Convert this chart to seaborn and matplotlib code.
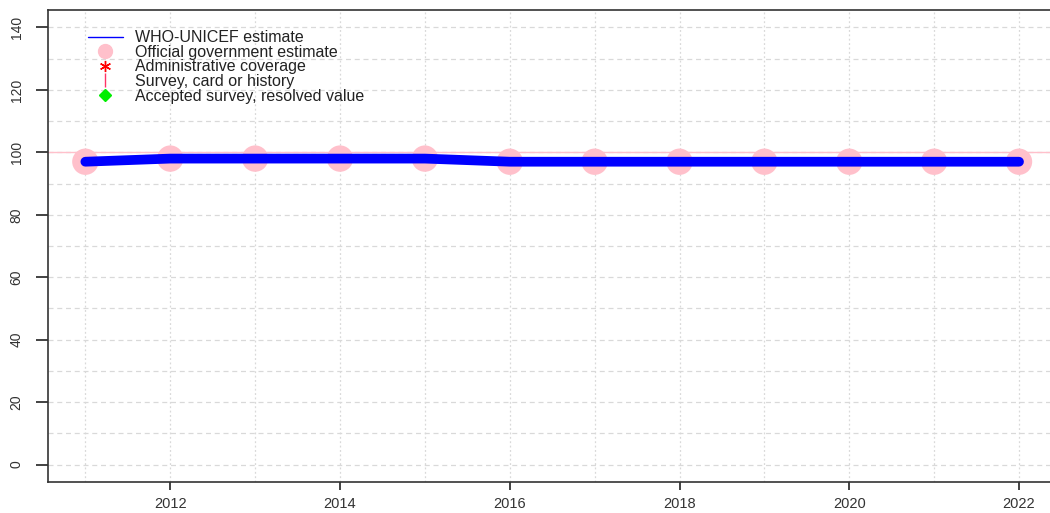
import matplotlib
matplotlib.use("Agg")
import matplotlib.pyplot as plt
from matplotlib.lines import Line2D
import seaborn as sns
import pandas as pd

years = [2011, 2012, 2013, 2014, 2015, 2016, 2017, 2018, 2019, 2020, 2021, 2022]
wuenic = [97, 98, 98, 98, 98, 97, 97, 97, 97, 97, 97, 97]
official = [97, 98, 98, 98, 98, 97, 97, 97, 97, 97, 97, 97]

data = pd.DataFrame({"year": years, "wuenic": wuenic, "official": official})

sns.set_style("white")
plt.rcParams["font.family"] = ["Liberation Sans", "DejaVu Sans"]

fig = plt.figure(figsize=(10.5, 5.13), dpi=100)
ax = fig.add_axes([48 / 1050, 1 - 482 / 513, 1 - 48 / 1050, (482 - 10) / 513])

for y in range(0, 150, 10):
    ax.axhline(y, color="#d9d9d9", lw=0.9, ls=(0, (4, 3)), zorder=0)
for x in years:
    ax.axvline(x, color="#d9d9d9", lw=0.9, ls=(0, (1.5, 2)), zorder=0)
ax.axhline(100, color="pink", lw=1.0, zorder=1)

sns.scatterplot(data=data, x="year", y="official", ax=ax, color="pink",
                s=360, edgecolor="none", zorder=2, legend=False)
sns.lineplot(data=data, x="year", y="wuenic", ax=ax, color="blue",
             lw=7, zorder=3, legend=False)

ax.set_xlim(2010.56, 2022.365)
ax.set_ylim(-5.6, 145.6)
ax.set_xticks([2012, 2014, 2016, 2018, 2020, 2022])
ax.set_yticks(range(0, 141, 20))
ax.set_xlabel("")
ax.set_ylabel("")
ax.tick_params(axis="x", bottom=True, direction="out", length=6, width=1.2,
               colors="#222222", labelsize=10.5, labelcolor="#333333", pad=5)
ax.tick_params(axis="y", left=True, direction="out", length=8.5, width=1.2,
               colors="#222222", labelsize=10, labelcolor="#333333", pad=9)
for lab in ax.get_yticklabels():
    lab.set_rotation(90)
    lab.set_va("center")

for side in ["left", "bottom", "top"]:
    ax.spines[side].set_visible(True)
    ax.spines[side].set_color("#333333")
    ax.spines[side].set_linewidth(1.2)
ax.spines["right"].set_visible(False)

handles = [
    Line2D([], [], color="blue", lw=1),
    Line2D([], [], color="pink", marker="o", ls="none", markersize=10),
    Line2D([], [], color="red", marker=(6, 2, 0), ls="none", markersize=8, markeredgewidth=1),
    Line2D([], [], color="#ff3366", marker="|", ls="none", markersize=10, markeredgewidth=1),
    Line2D([], [], color="#00ee00", marker="D", ls="none", markersize=6),
]
labels = [
    "WHO-UNICEF estimate",
    "Official government estimate",
    "Administrative coverage",
    "Survey, card or history",
    "Accepted survey, resolved value",
]
ax.legend(handles, labels, loc="upper left", bbox_to_anchor=(0.03, 0.977),
          frameon=False, fontsize=11.5, labelspacing=-0.03, handlelength=2.2,
          handletextpad=0.75, borderaxespad=0.2, labelcolor="#222222")

fig.savefig("out.png", dpi=100)
